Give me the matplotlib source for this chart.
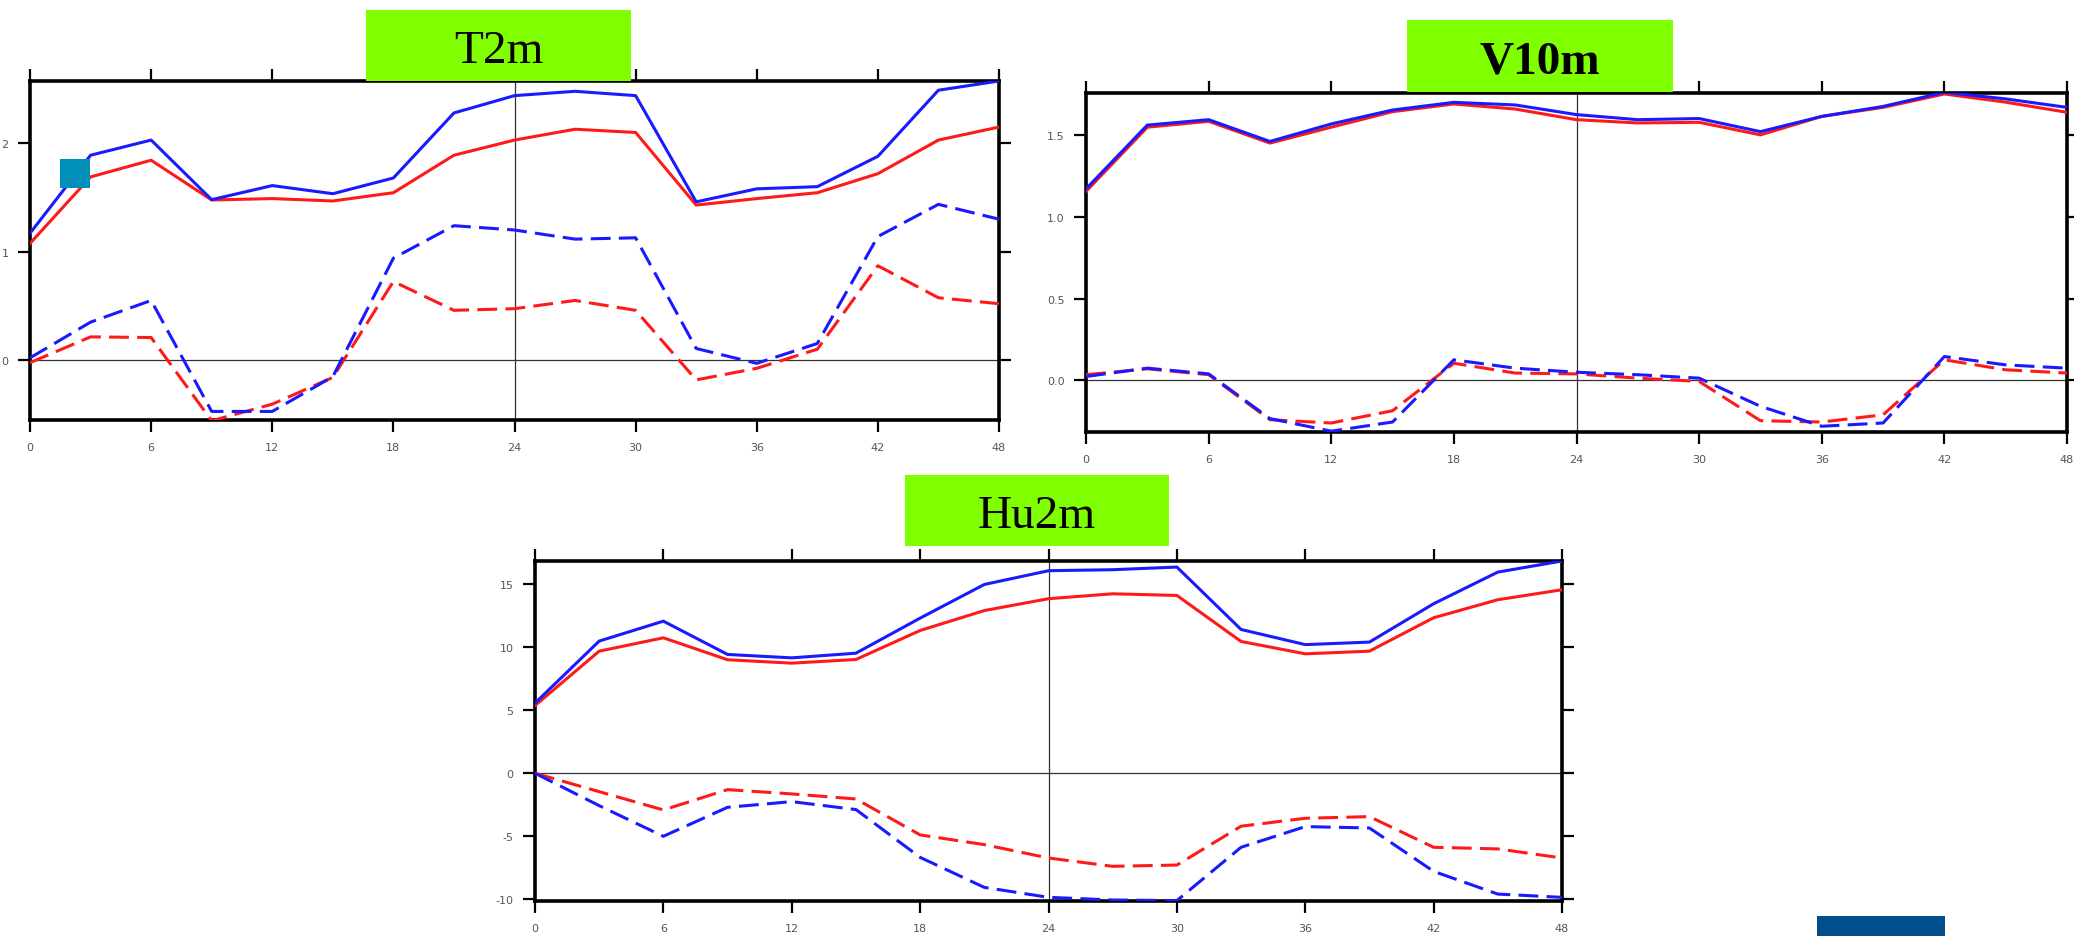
import numpy as np
import matplotlib
matplotlib.use("Agg")
import matplotlib.pyplot as plt
from matplotlib.patches import Rectangle

W, H = 2074, 937

hours = [0, 3, 6, 9, 12, 15, 18, 21, 24, 27, 30, 33, 36, 39, 42, 45, 48]
xticks = [0, 6, 12, 18, 24, 30, 36, 42, 48]

# T2m
t2m_blue = [1.17, 1.89, 2.03, 1.48, 1.61, 1.535, 1.68, 2.28, 2.44, 2.48, 2.44,
            1.46, 1.58, 1.60, 1.88, 2.49, 2.575]
t2m_red = [1.076, 1.69, 1.844, 1.477, 1.49, 1.468, 1.544, 1.89, 2.03, 2.13, 2.10,
           1.43, 1.49, 1.544, 1.72, 2.03, 2.15]
t2m_blue_d = [0.02, 0.35, 0.55, -0.474, -0.474, -0.153, 0.94, 1.24, 1.20, 1.116, 1.128,
              0.107, -0.03, 0.153, 1.14, 1.437, 1.30]
t2m_red_d = [-0.024, 0.214, 0.208, -0.56, -0.407, -0.16, 0.725, 0.459, 0.474, 0.55, 0.459,
             -0.183, -0.076, 0.10, 0.87, 0.575, 0.52]

# V10m
v10_blue = [1.17, 1.56, 1.593, 1.46, 1.567, 1.652, 1.699, 1.683, 1.624, 1.593, 1.60,
            1.52, 1.613, 1.674, 1.76, 1.72, 1.668]
v10_red = [1.155, 1.547, 1.583, 1.45, 1.547, 1.642, 1.689, 1.658, 1.593, 1.573, 1.577,
           1.50, 1.613, 1.668, 1.75, 1.70, 1.638]
v10_blue_d = [0.024, 0.075, 0.04, -0.233, -0.31, -0.254, 0.126, 0.075, 0.05, 0.035, 0.014,
              -0.158, -0.28, -0.26, 0.146, 0.095, 0.075]
v10_red_d = [0.035, 0.071, 0.035, -0.24, -0.26, -0.185, 0.105, 0.045, 0.04, 0.014, -0.006,
             -0.246, -0.254, -0.21, 0.126, 0.065, 0.045]

# Hu2m
hu_blue = [5.56, 10.48, 12.06, 9.42, 9.15, 9.52, 12.3, 14.97, 16.06, 16.14, 16.35,
           11.4, 10.2, 10.4, 13.44, 15.95, 16.83]
hu_red = [5.37, 9.68, 10.74, 9.0, 8.73, 9.02, 11.32, 12.9, 13.84, 14.23, 14.1,
          10.45, 9.47, 9.68, 12.33, 13.76, 14.55]
hu_blue_d = [0.0, -2.57, -5.0, -2.7, -2.25, -2.88, -6.67, -9.05, -9.84, -10.05, -10.1,
             -5.87, -4.23, -4.34, -7.78, -9.58, -9.84]
hu_red_d = [0.0, -1.46, -2.91, -1.30, -1.64, -2.04, -4.89, -5.66, -6.72, -7.38, -7.28,
            -4.2, -3.57, -3.44, -5.87, -6.0, -6.72]


def box(x0, y0, x1, y1):
    # pixel box (top-left origin) -> figure fraction [l, b, w, h]
    return [x0 / W, 1 - y1 / H, (x1 - x0) / W, (y1 - y0) / H]


def panel(fig, rect, blue, red, blue_d, red_d, ylim, yticks, yfmt):
    ax = fig.add_axes(rect)
    ax.plot(hours, red, color='#ff1a1a', lw=2.2, zorder=3)
    ax.plot(hours, blue, color='#1a1aff', lw=2.2, zorder=4)
    ax.plot(hours, red_d, color='#ff1a1a', lw=2.2, dashes=(6.5, 2.7), zorder=3)
    ax.plot(hours, blue_d, color='#1a1aff', lw=2.2, dashes=(6.5, 2.7), zorder=4)
    ax.axhline(0, color='#333333', lw=0.9, zorder=2)
    ax.axvline(24, color='#333333', lw=0.9, zorder=2)
    ax.set_xlim(0, 48)
    ax.set_ylim(*ylim)
    ax.set_xticks(xticks)
    ax.set_yticks(yticks)
    ax.set_yticklabels([yfmt % v for v in yticks])
    ax.tick_params(direction='out', length=8.5, width=1.6, pad=7,
                   top=True, right=True, labelsize=8, labelcolor='#555555')
    for lab in ax.get_xticklabels() + ax.get_yticklabels():
        lab.set_family(['Liberation Sans Narrow', 'DejaVu Sans'])
    for s in ax.spines.values():
        s.set_linewidth(2.6)
    return ax


fig = plt.figure(figsize=(W / 100, H / 100), dpi=100)

panel(fig, box(30, 82, 999, 421), t2m_blue, t2m_red, t2m_blue_d, t2m_red_d,
      (-0.553, 2.575), [0, 1, 2], '%g')
panel(fig, box(1086, 94, 2067, 433), v10_blue, v10_red, v10_blue_d, v10_red_d,
      (-0.315, 1.756), [0.0, 0.5, 1.0, 1.5], '%.1f')
panel(fig, box(535, 562, 1562, 902), hu_blue, hu_red, hu_blue_d, hu_red_d,
      (-10.13, 16.83), [-10, -5, 0, 5, 10, 15], '%g')

# green title boxes
titles = [("T2m", (366, 11, 631, 82), 63, 'normal'),
          ("V10m", (1407, 21, 1673, 93), 73, 'bold'),
          ("Hu2m", (905, 476, 1169, 547), 528, 'normal')]
for name, (x0, y0, x1, y1), base, wt in titles:
    l, b, w, h = box(x0, y0, x1, y1)
    fig.add_artist(Rectangle((l, b), w, h, transform=fig.transFigure,
                             facecolor='#7fff00', edgecolor='none', zorder=10))
    fig.text(l + w / 2, 1 - base / H, name, ha='center', va='baseline',
             fontsize=34, family='Liberation Serif', weight=wt, zorder=11)

# small decorative squares
l, b, w, h = box(60, 160, 90, 189)
fig.add_artist(Rectangle((l, b), w, h, transform=fig.transFigure,
                         facecolor='#008fb8', edgecolor='none', zorder=10))
l, b, w, h = box(1817, 917, 1945, 937)
fig.add_artist(Rectangle((l, b), w, h, transform=fig.transFigure,
                         facecolor='#004f8c', edgecolor='none', zorder=10))

fig.savefig('out.png', dpi=100)
